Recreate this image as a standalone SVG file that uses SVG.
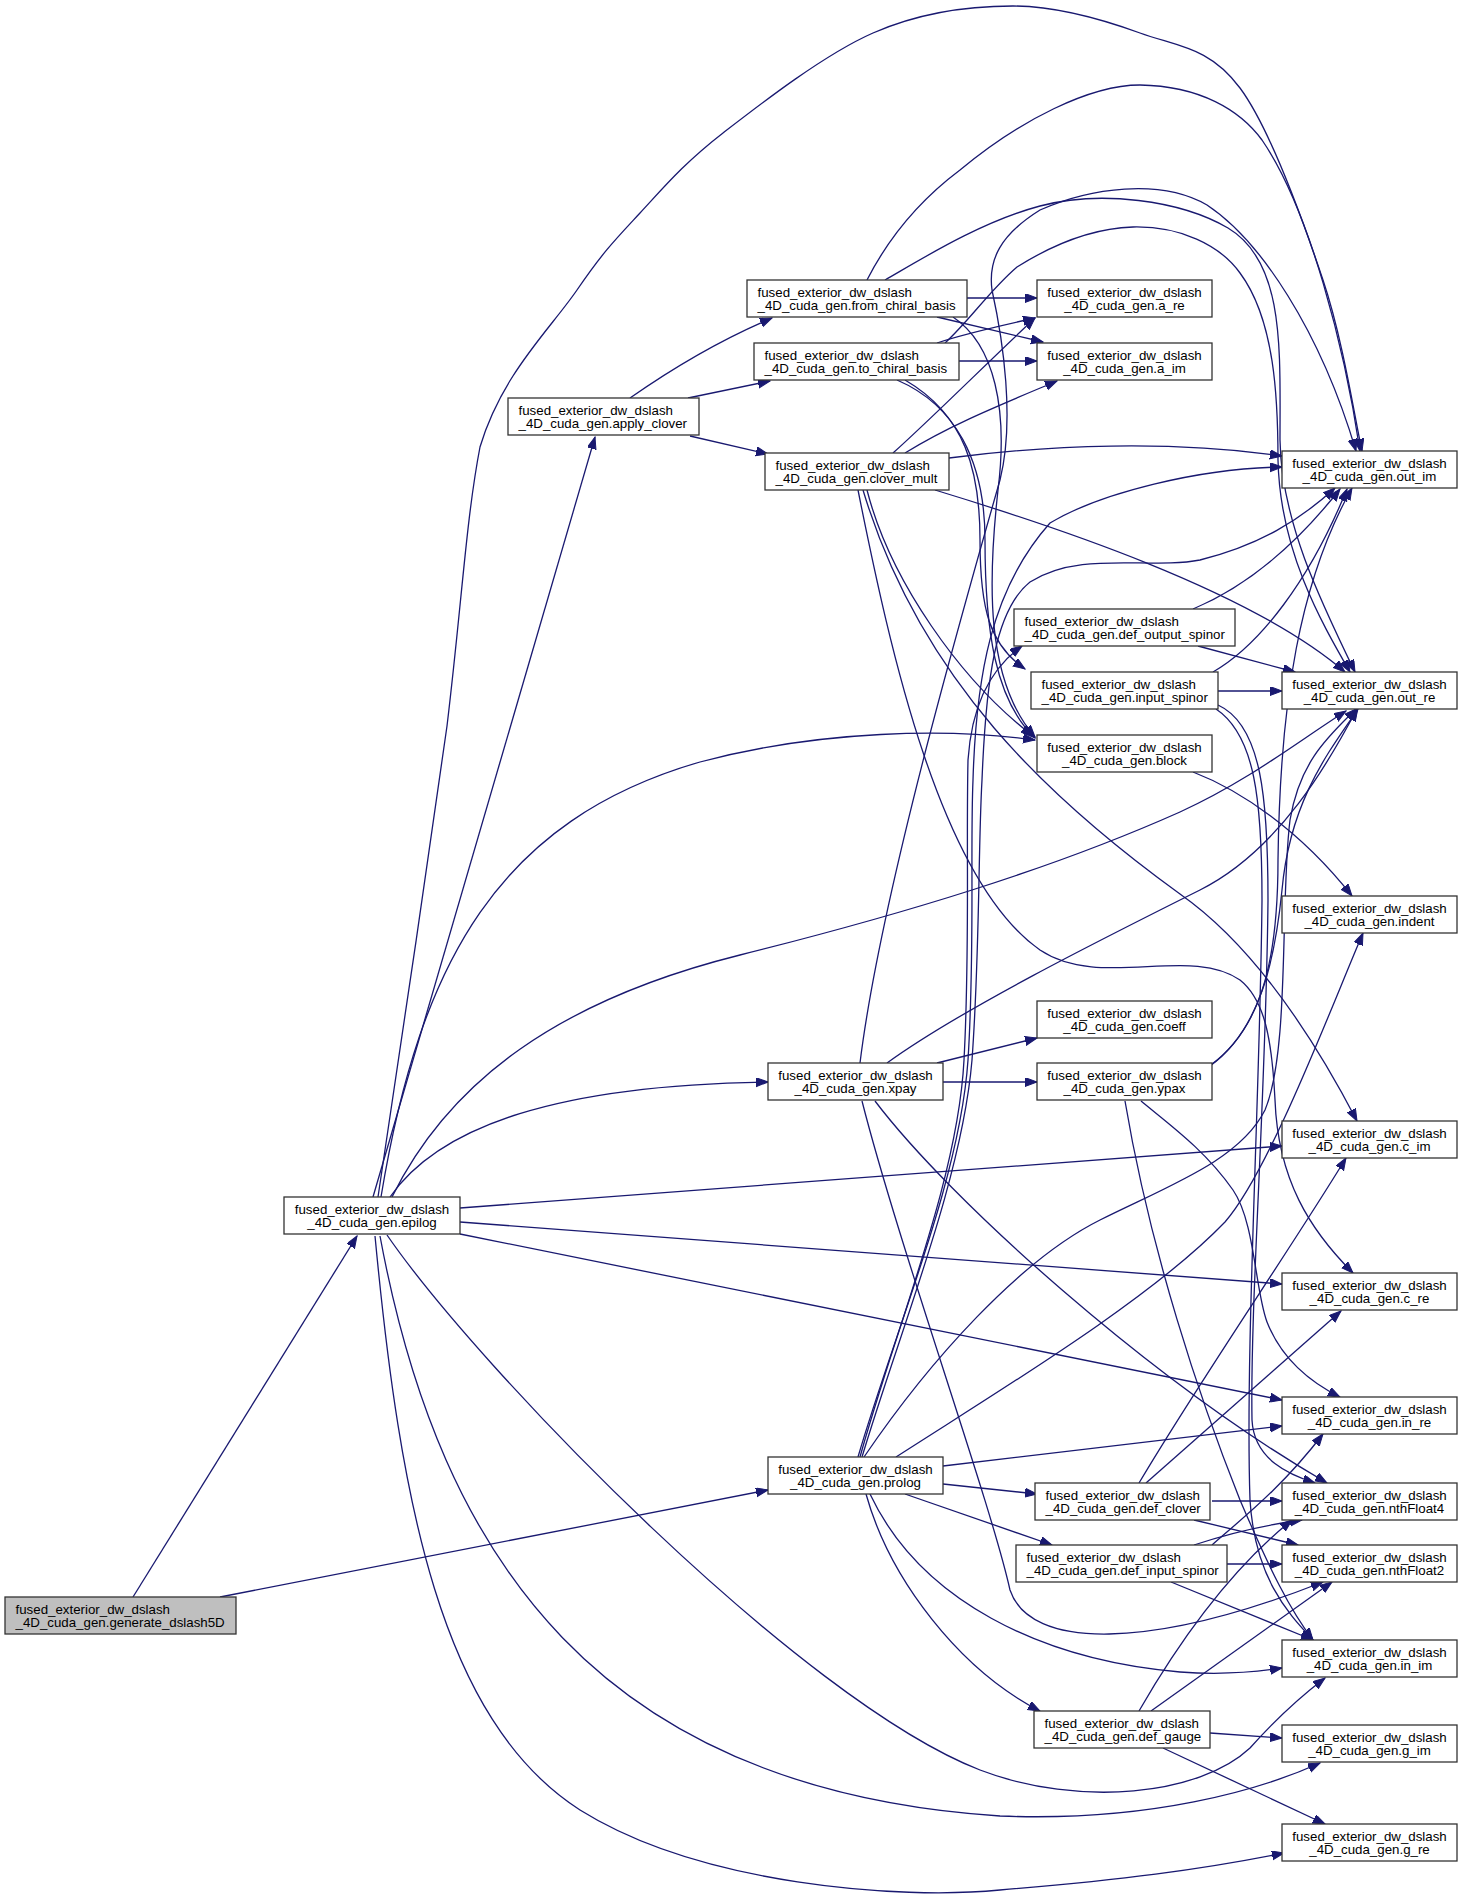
<svg xmlns="http://www.w3.org/2000/svg" width="1467" height="1898" viewBox="0 0 1467 1898">
<style>
.e{fill:none;stroke:#191970;stroke-width:1.3;marker-end:url(#ah)}
.n rect{fill:#fff;stroke:#333;stroke-width:1.3}
.n.root rect{fill:#bfbfbf}
.n text{font-family:"Liberation Sans",Arial,Helvetica,sans-serif;font-size:13.3px;fill:#000}
.c{text-anchor:middle}
</style>
<defs>
<marker id="ah" markerWidth="13" markerHeight="10" refX="12" refY="4.5" orient="auto" markerUnits="userSpaceOnUse">
<path d="M0,0 L12,4.5 L0,9 z" fill="#191970" stroke="#191970" stroke-width="1"/>
</marker>
</defs>
<rect width="1467" height="1898" fill="#fff"/>
<g id="connectors">
<path class="e" d="M133,1597 L357,1236"/>
<path class="e" d="M220,1597 L768,1490"/>
<path class="e" d="M373,1197 L595,437"/>
<path class="e" d="M378,1197 C389.5,1118.5 430,851 447,726 C462,601 466,520 480,447 C501.7,374.3 550.3,329 577,290 C603.7,251 615.7,239.2 640,213 C664.3,186.8 684.2,163 723,133 C761.8,103 824.7,54.2 873,33 C921.3,11.8 968.5,6 1013,6 C1057.5,6 1102.2,19.3 1140,33 C1177.8,46.7 1209.5,46.8 1240,88 C1270.5,129.2 1302.7,219.5 1323,280 C1343.3,340.5 1355.5,422.5 1362,451"/>
<path class="e" d="M381,1197 C420,960 500,820 700,762 C820,730 950,728 1035,740"/>
<path class="e" d="M392,1197 C450,1080 560,1000 740,955 C900,915 1050,870 1180,812 C1250,780 1300,740 1346,711"/>
<path class="e" d="M390,1197 C440,1125 560,1085 768,1082"/>
<path class="e" d="M460,1208 L1282,1146"/>
<path class="e" d="M460,1222 L1282,1284"/>
<path class="e" d="M460,1234 L1282,1400"/>
<path class="e" d="M387,1235 C480,1370 800,1700 980,1770 C1080,1808 1200,1795 1250,1748 C1275,1720 1300,1697 1325,1678"/>
<path class="e" d="M380,1236 C440,1560 600,1790 1000,1816 C1150,1822 1260,1790 1320,1763"/>
<path class="e" d="M375,1236 C400,1500 440,1720 580,1810 C700,1885 900,1900 1000,1890 C1120,1880 1200,1870 1284,1853"/>
<path class="e" d="M630,398 C670,370 720,340 772,318"/>
<path class="e" d="M688,398 L770,381"/>
<path class="e" d="M690,436 L768,454"/>
<path class="e" d="M967,298 L1037,298"/>
<path class="e" d="M937,317 L1043,342"/>
<path class="e" d="M867,280 C890,235 920,200 960,170 C1020,120 1090,85 1140,85 C1200,86 1240,110 1262,140 C1310,210 1345,350 1360,451"/>
<path class="e" d="M885,280 C920,260 980,222 1040,206 C1100,190 1180,200 1228,228 C1285,262 1280,350 1280,440 C1281,520 1320,600 1355,672"/>
<path class="e" d="M945,343 C970,320 990,290 1017,267 C1060,240 1100,228 1133,227 C1180,226 1220,245 1240,273 C1275,320 1278,400 1278,460 C1280,550 1320,620 1350,672"/>
<path class="e" d="M860,1063 C880,900 960,620 1000,480 C1015,420 1003,340 992,290 C988,260 1000,235 1040,210 C1090,188 1160,178 1207,205 C1260,240 1320,330 1356,451"/>
<path class="e" d="M953,317 C995,345 1008,410 998,490 C988,580 985,680 1035,737"/>
<path class="e" d="M897,380 C955,405 985,460 985,540 C985,630 995,700 1035,738"/>
<path class="e" d="M905,380 C965,415 980,470 980,540 C980,610 990,645 1025,669"/>
<path class="e" d="M937,343 C960,335 990,328 1035,318"/>
<path class="e" d="M959,361 L1037,361"/>
<path class="e" d="M893,453 C930,420 990,360 1035,318"/>
<path class="e" d="M905,453 C950,425 1000,405 1057,381"/>
<path class="e" d="M949,458 C1050,445 1170,440 1282,456"/>
<path class="e" d="M935,490 C1050,525 1250,590 1345,672"/>
<path class="e" d="M867,490 C890,580 960,680 1033,736"/>
<path class="e" d="M863,490 C920,680 1050,800 1180,894 C1260,950 1320,1050 1357,1121"/>
<path class="e" d="M858,490 C890,650 940,880 1040,950 C1100,990 1190,945 1240,980 C1265,1000 1272,1040 1275,1100 C1278,1180 1310,1230 1353,1273"/>
<path class="e" d="M1193,609 C1250,585 1300,540 1340,489"/>
<path class="e" d="M1198,646 L1295,672"/>
<path class="e" d="M1213,672 C1260,645 1310,580 1347,489"/>
<path class="e" d="M1218,691 L1282,691"/>
<path class="e" d="M1218,705 C1262,725 1268,800 1268,900 C1266,1100 1250,1300 1252,1420 C1254,1460 1290,1475 1315,1483"/>
<path class="e" d="M1216,709 C1255,735 1262,800 1262,900 C1260,1100 1245,1350 1250,1500 C1255,1580 1290,1615 1313,1640"/>
<path class="e" d="M1193,772 C1240,790 1300,830 1352,896"/>
<path class="e" d="M937,1063 L1037,1038"/>
<path class="e" d="M943,1082 L1037,1082"/>
<path class="e" d="M887,1063 C960,1010 1100,940 1200,890 C1280,850 1330,760 1357,709"/>
<path class="e" d="M862,1101 C900,1250 990,1500 1010,1590 C1030,1650 1150,1650 1323,1582"/>
<path class="e" d="M875,1101 C950,1200 1150,1380 1327,1483"/>
<path class="e" d="M1210,1066 C1260,1030 1275,960 1282,890 C1290,800 1330,750 1358,709"/>
<path class="e" d="M1212,1064 C1265,1025 1278,950 1278,860 C1280,700 1300,580 1352,488"/>
<path class="e" d="M1125,1101 C1150,1250 1200,1400 1240,1500 C1270,1570 1290,1610 1313,1640"/>
<path class="e" d="M1141,1101 C1170,1125 1205,1150 1233,1190 C1255,1222 1255,1290 1267,1322 C1282,1360 1310,1382 1340,1397"/>
<path class="e" d="M943,1466 L1282,1426"/>
<path class="e" d="M943,1484 L1037,1494"/>
<path class="e" d="M905,1494 L1052,1545"/>
<path class="e" d="M866,1494 C890,1580 960,1670 1040,1711"/>
<path class="e" d="M870,1494 C920,1600 1040,1660 1180,1672 C1220,1675 1250,1673 1282,1668"/>
<path class="e" d="M864,1457 C930,1360 1020,1260 1100,1220 C1170,1185 1240,1160 1265,1110 C1290,1050 1280,900 1290,820 C1300,760 1330,735 1356,709"/>
<path class="e" d="M896,1457 C1000,1390 1150,1300 1225,1222 C1270,1170 1330,1010 1363,933"/>
<path class="e" d="M858,1457 C895,1330 960,1180 968,1060 C975,950 970,850 973,780 C976,680 990,590 1050,523 C1100,493 1200,468 1282,467"/>
<path class="e" d="M862,1457 C900,1330 962,1180 972,1060 C980,950 978,850 982,780 C986,680 995,610 1030,582 C1080,550 1150,570 1200,560 C1260,545 1300,520 1335,488"/>
<path class="e" d="M860,1457 C895,1330 958,1180 964,1060 C970,950 966,850 968,760 C972,700 995,665 1022,646"/>
<path class="e" d="M1212,1501 L1282,1501"/>
<path class="e" d="M1194,1520 L1298,1545"/>
<path class="e" d="M1139,1483 C1200,1380 1290,1250 1346,1158"/>
<path class="e" d="M1146,1483 L1341,1311"/>
<path class="e" d="M1194,1545 C1230,1533 1265,1525 1302,1520"/>
<path class="e" d="M1212,1545 C1240,1520 1280,1490 1323,1434"/>
<path class="e" d="M1227,1564 L1282,1564"/>
<path class="e" d="M1171,1582 L1313,1640"/>
<path class="e" d="M1210,1733 L1282,1738"/>
<path class="e" d="M1163,1748 L1325,1824"/>
<path class="e" d="M1139,1711 C1180,1640 1230,1570 1292,1520"/>
<path class="e" d="M1151,1711 L1332,1582"/>
</g>
<g id="generate_dslash5D" class="n root"><rect x="5" y="1597" width="231" height="37"/><text x="15.5" y="1614">fused_exterior_dw_dslash</text><text x="15.5" y="1627">_4D_cuda_gen.generate_dslash5D</text></g>
<g id="epilog" class="n"><rect x="284" y="1197" width="176" height="37"/><text class="c" x="372" y="1214">fused_exterior_dw_dslash</text><text class="c" x="372" y="1227">_4D_cuda_gen.epilog</text></g>
<g id="apply_clover" class="n"><rect x="508" y="398" width="191" height="37"/><text x="518.5" y="415">fused_exterior_dw_dslash</text><text x="518.5" y="428">_4D_cuda_gen.apply_clover</text></g>
<g id="from_chiral_basis" class="n"><rect x="747" y="280" width="220" height="37"/><text x="757.5" y="297">fused_exterior_dw_dslash</text><text x="757.5" y="310">_4D_cuda_gen.from_chiral_basis</text></g>
<g id="to_chiral_basis" class="n"><rect x="754" y="343" width="205" height="37"/><text x="764.5" y="360">fused_exterior_dw_dslash</text><text x="764.5" y="373">_4D_cuda_gen.to_chiral_basis</text></g>
<g id="clover_mult" class="n"><rect x="765" y="453" width="184" height="37"/><text x="775.5" y="470">fused_exterior_dw_dslash</text><text x="775.5" y="483">_4D_cuda_gen.clover_mult</text></g>
<g id="a_re" class="n"><rect x="1037" y="280" width="175" height="37"/><text class="c" x="1124.5" y="297">fused_exterior_dw_dslash</text><text class="c" x="1124.5" y="310">_4D_cuda_gen.a_re</text></g>
<g id="a_im" class="n"><rect x="1037" y="343" width="175" height="37"/><text class="c" x="1124.5" y="360">fused_exterior_dw_dslash</text><text class="c" x="1124.5" y="373">_4D_cuda_gen.a_im</text></g>
<g id="out_im" class="n"><rect x="1282" y="451" width="175" height="37"/><text class="c" x="1369.5" y="468">fused_exterior_dw_dslash</text><text class="c" x="1369.5" y="481">_4D_cuda_gen.out_im</text></g>
<g id="def_output_spinor" class="n"><rect x="1014" y="609" width="221" height="37"/><text x="1024.5" y="626">fused_exterior_dw_dslash</text><text x="1024.5" y="639">_4D_cuda_gen.def_output_spinor</text></g>
<g id="input_spinor" class="n"><rect x="1031" y="672" width="187" height="37"/><text x="1041.5" y="689">fused_exterior_dw_dslash</text><text x="1041.5" y="702">_4D_cuda_gen.input_spinor</text></g>
<g id="out_re" class="n"><rect x="1282" y="672" width="175" height="37"/><text class="c" x="1369.5" y="689">fused_exterior_dw_dslash</text><text class="c" x="1369.5" y="702">_4D_cuda_gen.out_re</text></g>
<g id="block" class="n"><rect x="1037" y="735" width="175" height="37"/><text class="c" x="1124.5" y="752">fused_exterior_dw_dslash</text><text class="c" x="1124.5" y="765">_4D_cuda_gen.block</text></g>
<g id="indent" class="n"><rect x="1282" y="896" width="175" height="37"/><text class="c" x="1369.5" y="913">fused_exterior_dw_dslash</text><text class="c" x="1369.5" y="926">_4D_cuda_gen.indent</text></g>
<g id="coeff" class="n"><rect x="1037" y="1001" width="175" height="37"/><text class="c" x="1124.5" y="1018">fused_exterior_dw_dslash</text><text class="c" x="1124.5" y="1031">_4D_cuda_gen.coeff</text></g>
<g id="xpay" class="n"><rect x="768" y="1063" width="175" height="37"/><text class="c" x="855.5" y="1080">fused_exterior_dw_dslash</text><text class="c" x="855.5" y="1093">_4D_cuda_gen.xpay</text></g>
<g id="ypax" class="n"><rect x="1037" y="1063" width="175" height="37"/><text class="c" x="1124.5" y="1080">fused_exterior_dw_dslash</text><text class="c" x="1124.5" y="1093">_4D_cuda_gen.ypax</text></g>
<g id="c_im" class="n"><rect x="1282" y="1121" width="175" height="37"/><text class="c" x="1369.5" y="1138">fused_exterior_dw_dslash</text><text class="c" x="1369.5" y="1151">_4D_cuda_gen.c_im</text></g>
<g id="c_re" class="n"><rect x="1282" y="1273" width="175" height="37"/><text class="c" x="1369.5" y="1290">fused_exterior_dw_dslash</text><text class="c" x="1369.5" y="1303">_4D_cuda_gen.c_re</text></g>
<g id="in_re" class="n"><rect x="1282" y="1397" width="175" height="37"/><text class="c" x="1369.5" y="1414">fused_exterior_dw_dslash</text><text class="c" x="1369.5" y="1427">_4D_cuda_gen.in_re</text></g>
<g id="prolog" class="n"><rect x="768" y="1457" width="175" height="37"/><text class="c" x="855.5" y="1474">fused_exterior_dw_dslash</text><text class="c" x="855.5" y="1487">_4D_cuda_gen.prolog</text></g>
<g id="def_clover" class="n"><rect x="1035" y="1483" width="175" height="37"/><text x="1045.5" y="1500">fused_exterior_dw_dslash</text><text x="1045.5" y="1513">_4D_cuda_gen.def_clover</text></g>
<g id="nthFloat4" class="n"><rect x="1282" y="1483" width="175" height="37"/><text class="c" x="1369.5" y="1500">fused_exterior_dw_dslash</text><text class="c" x="1369.5" y="1513">_4D_cuda_gen.nthFloat4</text></g>
<g id="def_input_spinor" class="n"><rect x="1016" y="1545" width="211" height="37"/><text x="1026.5" y="1562">fused_exterior_dw_dslash</text><text x="1026.5" y="1575">_4D_cuda_gen.def_input_spinor</text></g>
<g id="nthFloat2" class="n"><rect x="1282" y="1545" width="175" height="37"/><text class="c" x="1369.5" y="1562">fused_exterior_dw_dslash</text><text class="c" x="1369.5" y="1575">_4D_cuda_gen.nthFloat2</text></g>
<g id="in_im" class="n"><rect x="1282" y="1640" width="175" height="37"/><text class="c" x="1369.5" y="1657">fused_exterior_dw_dslash</text><text class="c" x="1369.5" y="1670">_4D_cuda_gen.in_im</text></g>
<g id="def_gauge" class="n"><rect x="1034" y="1711" width="176" height="37"/><text x="1044.5" y="1728">fused_exterior_dw_dslash</text><text x="1044.5" y="1741">_4D_cuda_gen.def_gauge</text></g>
<g id="g_im" class="n"><rect x="1282" y="1725" width="175" height="37"/><text class="c" x="1369.5" y="1742">fused_exterior_dw_dslash</text><text class="c" x="1369.5" y="1755">_4D_cuda_gen.g_im</text></g>
<g id="g_re" class="n"><rect x="1282" y="1824" width="175" height="37"/><text class="c" x="1369.5" y="1841">fused_exterior_dw_dslash</text><text class="c" x="1369.5" y="1854">_4D_cuda_gen.g_re</text></g>
</svg>
